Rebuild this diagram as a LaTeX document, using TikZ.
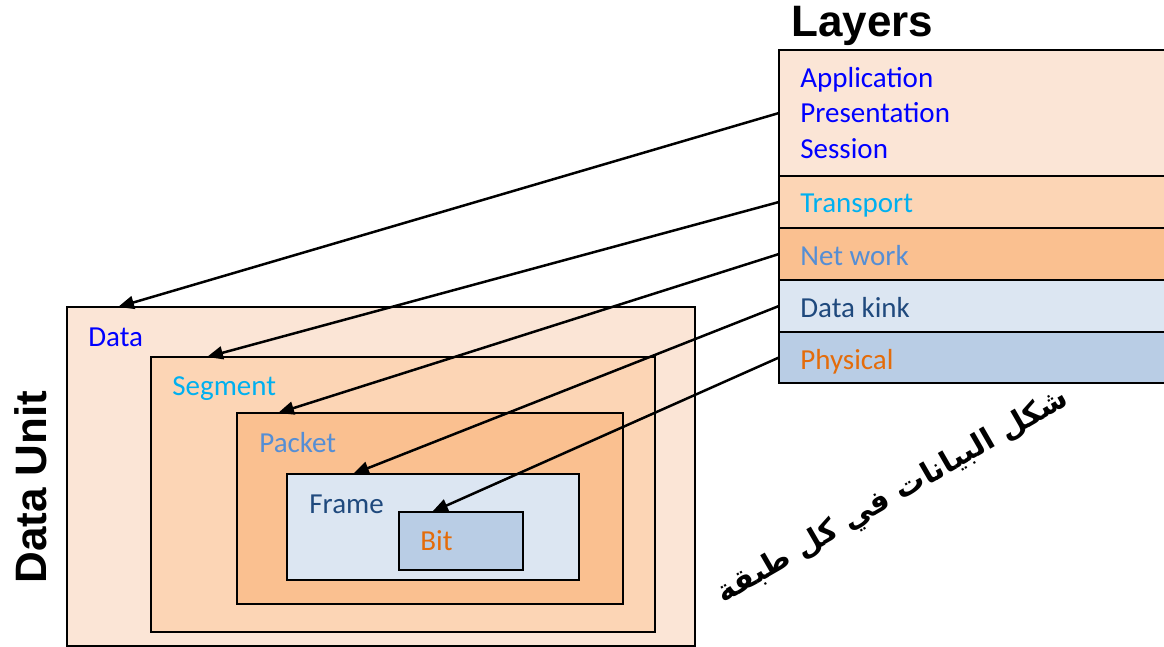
\documentclass[tikz,border=0pt]{standalone}
\usepackage{fontspec}
\setmainfont{Carlito}
\newfontfamily\headfont{Liberation Sans}
\newfontfamily\arabicfont[Script=Arabic]{DejaVu Sans}
\usetikzlibrary{arrows.meta}
\TeXXeTstate=1

\definecolor{fillA}{HTML}{FBE5D6}
\definecolor{fillB}{HTML}{FCD5B5}
\definecolor{fillC}{HTML}{FAC090}
\definecolor{fillD}{HTML}{DCE6F2}
\definecolor{fillE}{HTML}{B9CDE5}
\definecolor{txtA}{HTML}{0000FF}
\definecolor{txtB}{HTML}{00B0F0}
\definecolor{txtC}{HTML}{558ED5}
\definecolor{txtD}{HTML}{1F497D}
\definecolor{txtE}{HTML}{E46C0A}

\begin{document}
\begin{tikzpicture}[
        x=0.5pt, y=-0.5pt,                 % 1 px of the sketch = 0.5pt
        >={Triangle[length=8pt,width=6.5pt]},
        box/.style={draw, line width=1pt, inner sep=0pt, outer sep=0pt, anchor=north west},
        lbl/.style={inner sep=0pt, anchor=base west,
                    font=\fontsize{14.5}{17}\selectfont},
        head/.style={inner sep=0pt, font=\headfont\bfseries\fontsize{22}{24}\selectfont},
        arrow/.style={->, line width=1.25pt}
    ]
    \useasboundingbox (0,0) rectangle (1164,647);

    % Layers table
    \node[head, anchor=base west] (layers) at (791,37) {Layers};
    \node[box, fill=fillA, minimum width=196pt, minimum height=63pt] (app) at (779,50) {};
    \node[box, fill=fillB, minimum width=196pt, minimum height=26pt] (trans) at (app.south west) {};
    \node[box, fill=fillC, minimum width=196pt, minimum height=26pt] (net) at (trans.south west) {};
    \node[box, fill=fillD, minimum width=196pt, minimum height=26pt] (link) at (net.south west) {};
    \node[box, fill=fillE, minimum width=196pt, minimum height=25.5pt] (phys) at (link.south west) {};

    \node[lbl, text=txtA] (appL) at (800,88) {Application};
    \node[lbl, text=txtA] (presL) at (800,123) {Presentation};
    \node[lbl, text=txtA] (sessL) at (800,159) {Session};
    \node[lbl, text=txtB] (transL) at (800,213) {Transport};
    \node[lbl, text=txtC] (netL) at (800,266) {Net work};
    \node[lbl, text=txtD] (linkL) at (800,318) {Data kink};
    \node[lbl, text=txtE] (physL) at (800,370) {Physical};

    % nested data units
    \node[head, rotate=90] (unit) at (31,487) {Data Unit};
    \node[box, fill=fillA, minimum width=314pt, minimum height=169.5pt] (data) at (67,307) {};
    \node[box, fill=fillB, minimum width=252pt, minimum height=137.5pt] (segment) at (151,357) {};
    \node[box, fill=fillC, minimum width=193pt, minimum height=95.5pt] (packet) at (237,413) {};
    \node[box, fill=fillD, minimum width=146pt, minimum height=53pt] (frame) at (287,474) {};
    \node[box, fill=fillE, minimum width=62pt, minimum height=29pt] (bit) at (399,512) {};

    \node[lbl, text=txtA] (dataL) at (88,346) {Data};
    \node[lbl, text=txtB] (segmentL) at (172,395) {Segment};
    \node[lbl, text=txtC] (packetL) at (259,452) {Packet};
    \node[lbl, text=txtD] (frameL) at (309,513) {Frame};
    \node[lbl, text=txtE] (bitL) at (420,550) {Bit};

    % layer -> unit
    \draw[arrow] (app.west) -- ([xshift=25.5pt]data.north west);
    \draw[arrow] (trans.west) -- ([xshift=28pt]segment.north west);
    \draw[arrow] (net.west) -- ([xshift=20.5pt]packet.north west);
    \draw[arrow] (link.west) -- ([xshift=33pt]frame.north west);
    \draw[arrow] (phys.west) -- ([xshift=16.5pt]bit.north west);

    \node[rotate=30, inner sep=0pt,
          font=\arabicfont\bfseries\fontsize{15}{17}\selectfont] (caption) at (893,497)
        {\beginR شكل البيانات في كل طبقة\endR};
\end{tikzpicture}
\end{document}
